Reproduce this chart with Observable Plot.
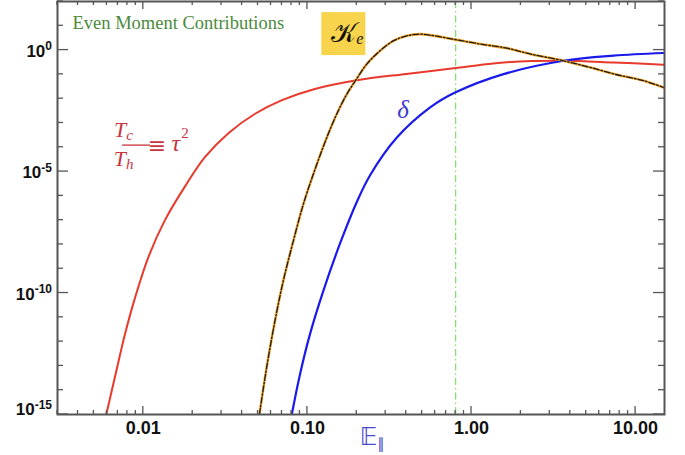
<!DOCTYPE html>
<html><head><meta charset="utf-8">
<script src="https://cdn.jsdelivr.net/npm/d3@7"></script>
<script src="https://cdn.jsdelivr.net/npm/@observablehq/plot@0.6"></script>
<style>
html,body{margin:0;padding:0;background:#fff;}
#chart svg{display:block;}
</style></head><body><div id="chart"></div>
<script>
// ---- data ----
const redX    = [0.00595, 0.00672, 0.00773, 0.0089, 0.0107, 0.01355, 0.018, 0.0238, 0.033, 0.048, 0.070, 0.111, 0.2, 0.40, 0.85, 1.57, 3.64, 7.34, 14.8];
const redLogY = [-15.0, -13.45, -11.7, -10.2, -8.55, -7.0, -5.6, -4.4, -3.42, -2.62, -2.06, -1.6, -1.24, -0.98, -0.72, -0.51, -0.44, -0.51, -0.60];

const blueX    = [0.0803, 0.0903, 0.1039, 0.1252, 0.1583, 0.2, 0.241, 0.351, 0.56, 0.8, 1.567, 3.64, 7.34, 14.8];
const blueLogY = [-15.0, -13.32, -11.67, -9.9, -7.95, -6.25, -5.15, -3.6, -2.36, -1.74, -0.99, -0.44, -0.23, -0.12];

const keX    = [0.0510, 0.0565, 0.0635, 0.0714, 0.0822, 0.0946, 0.1114, 0.1313, 0.151, 0.174, 0.198, 0.230, 0.277, 0.334, 0.404, 0.487, 0.56, 0.8, 1.13, 1.64, 2.28, 3.64, 5.30, 7.71, 11.2, 14.8];
const keLogY = [-15.0, -13.05, -11.13, -9.48, -7.84, -6.33, -4.9, -3.6, -2.63, -1.81, -1.22, -0.575, -0.03, 0.38, 0.588, 0.658, 0.617, 0.43, 0.25, 0.08, -0.16, -0.44, -0.715, -1.015, -1.26, -1.54];

const markerX = [0.8];

const xTickValues = [0.01, 0.1, 1, 10];
const xTickLabels = ["0.01", "0.10", "1.00", "10.00"];
const yTickExponents = [0, -5, -10, -15];
const yMinorExponents = [2, 1, -1, -2, -3, -4, -6, -7, -8, -9, -11, -12, -13, -14];
const xDomain = [0.003, 15];
const yDomain = [1e-15, 1e2];

const titleText = ["Even Moment Contributions"];

// ---- build tables ----
const toRows = (xs, ls) => xs.map((x, i) => ({x, y: 10 ** ls[i]}));
const red = toRows(redX, redLogY);
const blue = toRows(blueX, blueLogY);
const ke = toRows(keX, keLogY);

const xMinor = [];
for (const d of [0.001, 0.01, 0.1, 1]) for (let k = 2; k <= 9; k++) {
  const v = +(d * k).toPrecision(3);
  if (v > xDomain[0] * 0.999 && v < xDomain[1]) xMinor.push(v);
}

const SANS = "Liberation Sans, Arial, Helvetica, sans-serif";
const SERIF = "Liberation Serif, DejaVu Serif, serif";

function frameBox(d) {
  return {L: d.marginLeft, R: d.width - d.marginRight, T: d.marginTop, B: d.height - d.marginBottom};
}

// inward ticks on all four sides
function ticksMark(index, scales, values, dims) {
  const {x, y} = scales;
  const {L, R, T, B} = frameBox(dims);
  const g = d3.create("svg:g").attr("stroke", "#555").attr("stroke-width", 1.3).attr("fill", "none");
  const seg = (x1, y1, x2, y2) => g.append("line").attr("x1", x1).attr("y1", y1).attr("x2", x2).attr("y2", y2);
  for (const v of xTickValues) { const p = x(v); seg(p, B, p, B - 8); seg(p, T, p, T + 8); }
  for (const v of xMinor) { const p = x(v); seg(p, B, p, B - 4); seg(p, T, p, T + 4); }
  for (const e of yTickExponents) { const p = y(10 ** e); seg(L, p, L + 11, p); seg(R, p, R - 11, p); }
  for (const e of yMinorExponents) { const p = y(10 ** e); seg(L, p, L + 6, p); seg(R, p, R - 6, p); }
  return g.node();
}

// y tick labels 10^n
function yLabelsMark(index, scales, values, dims) {
  const {y} = scales;
  const {L, B} = frameBox(dims);
  const g = d3.create("svg:g").attr("font-family", SANS).attr("font-weight", "bold").attr("fill", "#111");
  for (const e of yTickExponents) {
    const p = y(10 ** e);
    const t = g.append("text").attr("x", L - 5).attr("y", Math.min(p + 7, B + 1)).attr("text-anchor", "end");
    t.append("tspan").attr("font-size", 17).text("10");
    t.append("tspan").attr("font-size", 12).attr("dy", -6.5).text(String(e));
  }
  return g.node();
}

// annotations
function annotationsMark(index, scales, values, dims) {
  const {x, y} = scales;
  const {B} = frameBox(dims);
  const g = d3.create("svg:g");
  // Tc/Th ≡ τ²
  const cx = x(0.0091), cy = y(1.17e-4);
  const rc = "#c8343c";
  const a = g.append("g").attr("fill", rc).attr("font-family", SERIF).attr("font-style", "italic");
  const t1 = a.append("text").attr("x", cx - 12.5).attr("y", cy - 8);
  t1.append("tspan").attr("font-size", 22).text("T");
  t1.append("tspan").attr("font-size", 15).attr("dy", 3).text("c");
  const t2 = a.append("text").attr("x", cx - 12.5).attr("y", cy + 21);
  t2.append("tspan").attr("font-size", 22).text("T");
  t2.append("tspan").attr("font-size", 15).attr("dy", 3).text("h");
  a.append("line").attr("x1", cx - 14).attr("x2", cx + 14).attr("y1", cy).attr("y2", cy).attr("stroke", rc).attr("stroke-width", 1.3);
  a.append("text").attr("x", cx + 21).attr("y", cy + 8).attr("font-style", "normal").attr("font-family", "DejaVu Serif, serif").attr("font-size", 22).text("≡");
  const t3 = a.append("text").attr("x", cx + 44).attr("y", cy + 6);
  t3.append("tspan").attr("font-size", 24).text("τ");
  t3.append("tspan").attr("font-size", 15).attr("font-style", "normal").attr("dx", 1).attr("dy", -13).text("2");
  // K_e box
  const kx = x(0.1667), ky = y(4.55);
  g.append("rect").attr("x", kx - 22).attr("y", ky - 21.5).attr("width", 44).attr("height", 43).attr("fill", "#f8d34c");
  const kt = g.append("text").attr("x", kx + 4).attr("y", ky + 8).attr("text-anchor", "middle").attr("fill", "#111").attr("font-family", "DejaVu Serif, serif");
  kt.append("tspan").attr("font-size", 27).text("𝒦");
  kt.append("tspan").attr("font-size", 16).attr("font-style", "italic").attr("font-family", SERIF).attr("dy", 2).text("e");
  // x-axis label 𝔼∥
  const ex = x(0.25);
  const et = g.append("text").attr("x", ex).attr("y", B + 31).attr("text-anchor", "middle").attr("fill", "#4a4ad0").attr("font-family", "DejaVu Sans, sans-serif");
  et.append("tspan").attr("font-size", 24).text("𝔼");
  et.append("tspan").attr("font-size", 15).attr("dy", 4).text("∥");
  return g.node();
}

const chart = Plot.plot({
  width: 685,
  height: 455,
  marginLeft: 57,
  marginRight: 21,
  marginTop: 1,
  marginBottom: 41,
  style: {fontFamily: SANS, background: "#fff"},
  x: {type: "log", domain: xDomain, axis: null},
  y: {type: "log", domain: yDomain, axis: null},
  marks: [
    Plot.ruleX(markerX, {x: d => d, stroke: "#86e070", strokeWidth: 1.3, strokeDasharray: "7,3,1.5,3"}),
    Plot.line(red, {x: "x", y: "y", stroke: "#e83a2c", strokeWidth: 2, curve: "catmull-rom", clip: true}),
    Plot.line(blue, {x: "x", y: "y", stroke: "#1a1aeb", strokeWidth: 2.2, curve: "catmull-rom", clip: true}),
    Plot.line(ke, {x: "x", y: "y", stroke: "#f3a52a", strokeWidth: 2.6, curve: "catmull-rom", clip: true}),
    Plot.line(ke, {x: "x", y: "y", stroke: "#1a1a1a", strokeWidth: 1.3, strokeDasharray: "6,2,1.5,2", curve: "catmull-rom", clip: true}),
    Plot.frame({stroke: "#555", strokeWidth: 2}),
    ticksMark,
    yLabelsMark,
    Plot.text(xTickValues, {x: d => d, text: (d, i) => xTickLabels[i], frameAnchor: "bottom", dy: 19, fontSize: 18, fontWeight: "bold", fontFamily: SANS, fill: "#111"}),
    Plot.text(titleText, {text: d => d, frameAnchor: "top-left", textAnchor: "start", lineAnchor: "top", dx: 15, dy: 14, fontSize: 18.5, fontFamily: SERIF, fill: "#4a8b3b"}),
    Plot.text(["δ"], {x: 0.383, y: 3.5e-3, text: d => d, fontSize: 25, fontStyle: "italic", fontFamily: SERIF, fill: "#3b3bcc"}),
    annotationsMark
  ]
});
document.getElementById("chart").appendChild(chart);
</script>
</body></html>
